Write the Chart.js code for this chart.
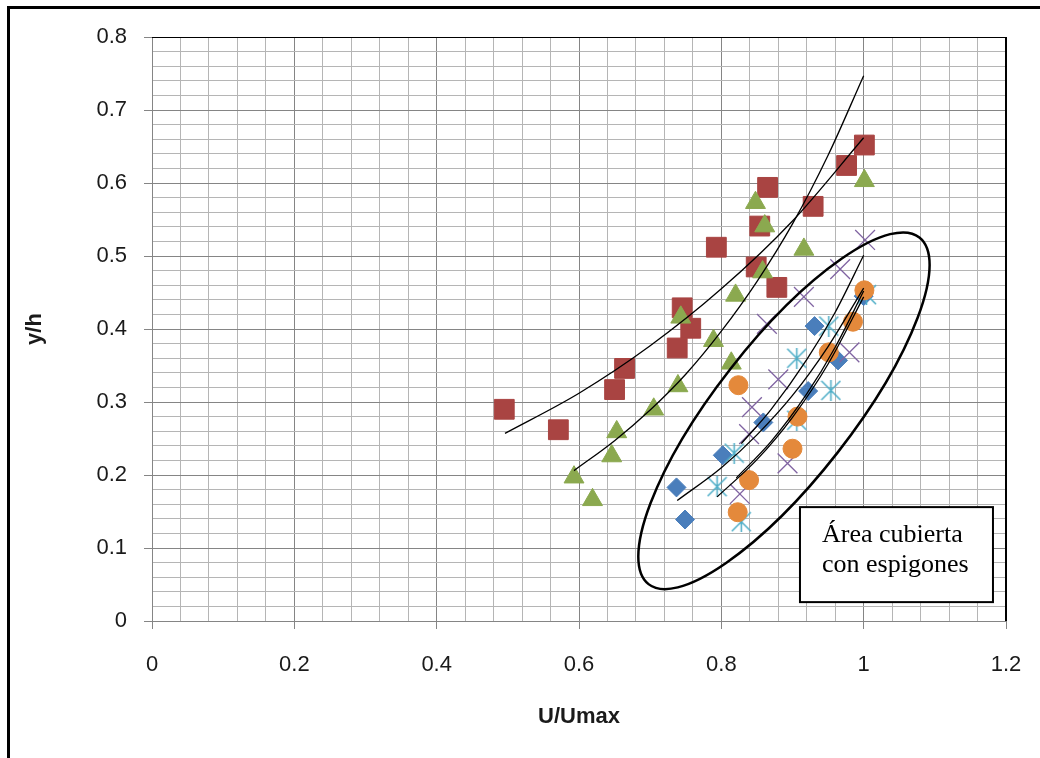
<!DOCTYPE html>
<html>
<head>
<meta charset="utf-8">
<script src="https://cdn.jsdelivr.net/npm/chart.js@4.4.1/dist/chart.umd.min.js"></script>
<style>
  body { margin: 0; background: #fff; }
  #wrap { position: relative; width: 1040px; height: 758px; overflow: hidden; background: #fff; }
  #chart { position: absolute; left: 0; top: 0; }
  #frame { position: absolute; left: 7px; top: 6px; width: 1100px; height: 800px;
           border-left: 3px solid #000; border-top: 3px solid #000; pointer-events: none; }
</style>
</head>
<body>
<div id="wrap">
  <canvas id="chart" width="1040" height="758"></canvas>
  <div id="frame"></div>
</div>
<script>
// Measured points (U/Umax, y/h) per series
const blueX = [0.737, 0.749, 0.802, 0.859, 0.922, 0.931, 0.964, 1.000];
const blueY = [0.183, 0.139, 0.227, 0.272, 0.315, 0.404, 0.357, 0.445];

const redX = [0.495, 0.571, 0.650, 0.664, 0.738, 0.745, 0.757, 0.793, 0.849, 0.854, 0.865, 0.878, 0.929, 0.976, 1.001];
const redY = [0.290, 0.262, 0.317, 0.346, 0.374, 0.429, 0.401, 0.512, 0.485, 0.541, 0.594, 0.457, 0.568, 0.624, 0.652];

const greenX = [0.593, 0.619, 0.646, 0.653, 0.705, 0.739, 0.743, 0.789, 0.814, 0.820, 0.848, 0.858, 0.861, 0.916, 1.001];
const greenY = [0.197, 0.166, 0.226, 0.259, 0.290, 0.322, 0.416, 0.384, 0.353, 0.446, 0.573, 0.478, 0.541, 0.509, 0.603];

const purpleX = [0.826, 0.839, 0.843, 0.864, 0.880, 0.893, 0.916, 0.967, 0.980, 1.002];
const purpleY = [0.174, 0.256, 0.293, 0.407, 0.331, 0.216, 0.444, 0.482, 0.368, 0.522];

const cyanX = [0.794, 0.818, 0.828, 0.906, 0.906, 0.951, 0.954, 1.004];
const cyanY = [0.184, 0.230, 0.136, 0.275, 0.360, 0.404, 0.316, 0.447];

const orangeX = [0.823, 0.839, 0.824, 0.900, 0.907, 0.951, 0.985, 1.001];
const orangeY = [0.149, 0.193, 0.323, 0.236, 0.280, 0.368, 0.410, 0.453];

// Trendlines
const redFitX = [0.496, 0.6, 0.7, 0.8, 0.9, 1.0];
const redFitY = [0.257, 0.312, 0.377, 0.455, 0.548, 0.662];
const greenFitX = [0.593, 0.65, 0.7, 0.75, 0.8, 0.85, 0.9, 0.95, 1.0];
const greenFitY = [0.206, 0.247, 0.289, 0.338, 0.397, 0.465, 0.544, 0.638, 0.747];
const blueFitX = [0.738, 0.8, 0.85, 0.9, 0.95, 1.0];
const blueFitY = [0.165, 0.210, 0.255, 0.309, 0.376, 0.456];
const purpleFitX = [0.828, 0.87, 0.92, 0.96, 1.0];
const purpleFitY = [0.243, 0.290, 0.358, 0.423, 0.501];
const cyanFitX = [0.794, 0.85, 0.9, 0.95, 1.0];
const cyanFitY = [0.170, 0.221, 0.279, 0.352, 0.444];
const orangeFitX = [0.821, 0.87, 0.92, 0.96, 1.0];
const orangeFitY = [0.196, 0.246, 0.311, 0.375, 0.452];

// Axis ticks
const xMajorTicks = [0, 0.2, 0.4, 0.6, 0.8, 1, 1.2];
const yMajorTicks = [0, 0.1, 0.2, 0.3, 0.4, 0.5, 0.6, 0.7, 0.8];

const pts = (xs, ys) => xs.map((v, i) => ({ x: v, y: ys[i] }));
const isMajor = (v, list) => list.some(t => Math.abs(t - v) < 1e-6);

// Asterisk marker (X with a vertical bar)
function asterisk(color) {
  const c = document.createElement('canvas');
  c.width = 21; c.height = 21;
  const g = c.getContext('2d');
  g.strokeStyle = color;
  g.lineWidth = 1.5;
  g.beginPath();
  g.moveTo(1, 1); g.lineTo(20, 20);
  g.moveTo(20, 1); g.lineTo(1, 20);
  g.moveTo(10.5, 0); g.lineTo(10.5, 21);
  g.stroke();
  return c;
}

function fitLine(xs, ys) {
  return {
    data: pts(xs, ys),
    showLine: true,
    borderColor: '#000',
    borderWidth: 1.3,
    pointRadius: 0,
    cubicInterpolationMode: 'monotone',
    fill: false,
    order: 0
  };
}

// Ellipse, text box and black plot frame drawn on top
const overlay = {
  id: 'overlay',
  afterDatasetsDraw(chart) {
    const { ctx, chartArea: a, scales: { x, y } } = chart;
    ctx.save();
    ctx.strokeStyle = '#000';
    ctx.lineWidth = 1;
    ctx.beginPath();
    ctx.moveTo(a.left, a.top + 0.5);
    ctx.lineTo(a.right, a.top + 0.5);
    ctx.stroke();
    ctx.lineWidth = 2;
    ctx.beginPath();
    ctx.moveTo(a.right, a.top);
    ctx.lineTo(a.right, a.bottom);
    ctx.stroke();

    ctx.lineWidth = 2.5;
    ctx.beginPath();
    ctx.ellipse(x.getPixelForValue(0.888), y.getPixelForValue(0.288), 220, 68,
      -52 * Math.PI / 180, 0, 2 * Math.PI);
    ctx.stroke();

    const bx = x.getPixelForValue(0.9105);
    const by = y.getPixelForValue(0.156);
    ctx.fillStyle = '#fff';
    ctx.fillRect(bx, by, 193, 95);
    ctx.lineWidth = 2;
    ctx.strokeRect(bx, by, 193, 95);
    ctx.fillStyle = '#000';
    ctx.font = '26px "Liberation Serif", "Times New Roman", serif';
    ctx.textBaseline = 'alphabetic';
    ctx.fillText('Área cubierta', bx + 22, by + 35);
    ctx.fillText('con espigones', bx + 22, by + 65);
    ctx.restore();
  }
};

const tickFont = { family: '"Liberation Sans", Arial, sans-serif', size: 22 };
const titleFont = { family: '"Liberation Sans", Arial, sans-serif', size: 22, weight: 'bold' };

new Chart(document.getElementById('chart'), {
  type: 'scatter',
  data: {
    datasets: [
      fitLine(redFitX, redFitY),
      fitLine(greenFitX, greenFitY),
      fitLine(blueFitX, blueFitY),
      fitLine(purpleFitX, purpleFitY),
      fitLine(cyanFitX, cyanFitY),
      fitLine(orangeFitX, orangeFitY),
      { data: pts(orangeX, orangeY), pointStyle: 'circle', pointRadius: 9.5,
        backgroundColor: '#E4893B', borderColor: '#E4893B', borderWidth: 1, order: 1 },
      { data: pts(cyanX, cyanY), pointStyle: asterisk('#4BACC6'), order: 2 },
      { data: pts(purpleX, purpleY), pointStyle: 'crossRot', pointRadius: 14,
        borderColor: '#8064A2', borderWidth: 1.3, order: 3 },
      { data: pts(greenX, greenY), pointStyle: 'triangle', pointRadius: 11.5,
        backgroundColor: '#8BA94F', borderColor: '#8BA94F', borderWidth: 1, order: 4 },
      { data: pts(redX, redY), pointStyle: 'rect', pointRadius: 14,
        backgroundColor: '#A94442', borderColor: '#A94442', borderWidth: 1, order: 5 },
      { data: pts(blueX, blueY), pointStyle: 'rectRot', pointRadius: 9.5,
        backgroundColor: '#4A7EBB', borderColor: '#4A7EBB', borderWidth: 1, order: 6 }
    ]
  },
  options: {
    responsive: false,
    animation: false,
    layout: { padding: { left: 0, right: 34, top: 37, bottom: 0 } },
    plugins: { legend: { display: false }, tooltip: { enabled: false } },
    scales: {
      x: {
        type: 'linear', min: 0, max: 1.2,
        afterFit: (s) => { s.height = 137; s.paddingLeft = 0; s.paddingRight = 0; },
        ticks: {
          stepSize: 0.04, autoSkip: false, maxRotation: 0, padding: 23,
          color: '#1a1a1a', font: tickFont,
          callback: (v) => (isMajor(v, xMajorTicks) ? String(Math.round(v * 10) / 10) : '')
        },
        grid: {
          tickLength: 8,
          color: (c) => (isMajor(c.tick.value, xMajorTicks) ? '#858585' : '#B5B5B5'),
          tickColor: (c) => (isMajor(c.tick.value, xMajorTicks) ? '#858585' : 'rgba(0,0,0,0)')
        },
        border: { color: '#858585' },
        title: { display: true, text: 'U/Umax', color: '#1a1a1a', font: titleFont,
          padding: { top: 0, bottom: 28 } }
      },
      y: {
        type: 'linear', min: 0, max: 0.8,
        afterFit: (s) => { s.width = 152; s.paddingTop = 0; s.paddingBottom = 0; },
        ticks: {
          stepSize: 0.02, autoSkip: false, padding: 17,
          color: '#1a1a1a', font: tickFont,
          callback: (v) => (isMajor(v, yMajorTicks) ? String(Math.round(v * 10) / 10) : '')
        },
        grid: {
          tickLength: 8,
          color: (c) => (isMajor(c.tick.value, yMajorTicks) ? '#858585' : '#B5B5B5'),
          tickColor: (c) => (isMajor(c.tick.value, yMajorTicks) ? '#858585' : 'rgba(0,0,0,0)')
        },
        border: { color: '#858585' },
        title: { display: true, text: 'y/h', color: '#1a1a1a', font: titleFont,
          padding: { top: 22, bottom: 0 } }
      }
    }
  },
  plugins: [overlay]
});
</script>
</body>
</html>
